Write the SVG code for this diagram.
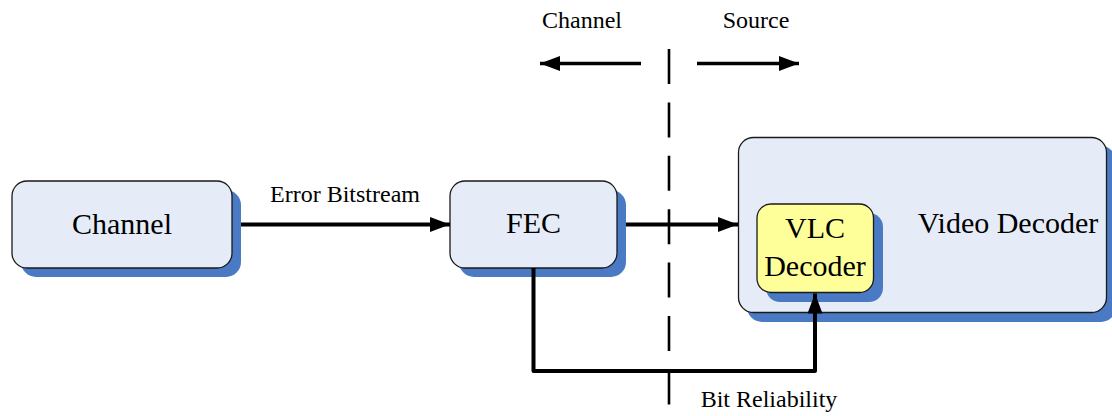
<svg xmlns="http://www.w3.org/2000/svg" width="1112" height="416" viewBox="0 0 1112 416">
  <style>
    .shadow { fill: #4A7AC3; }
    .box { fill: #E6ECF7; stroke: #1a1a1a; stroke-width: 1.3; }
    .vlc { fill: #FFFF99; stroke: #1a1a1a; stroke-width: 1.3; }
    .big { font-family: "Liberation Serif", "Times New Roman", serif; font-size: 30px; fill: #000; }
    .small { font-family: "Liberation Serif", "Times New Roman", serif; font-size: 24px; fill: #000; }
    .wire { fill: none; stroke: #000; stroke-width: 4; stroke-linejoin: round; }
    .thin { fill: none; stroke: #000; stroke-width: 3.3; }
    .divider { fill: none; stroke: #000; stroke-width: 2.6; stroke-dasharray: 35 18.4; }
  </style>
  <defs>
    <marker id="head" markerUnits="userSpaceOnUse" markerWidth="22" markerHeight="16" refX="20" refY="7.5" orient="auto">
      <path d="M0,0 L20,7.5 L0,15 Z" fill="#000"/>
    </marker>
  </defs>

  <rect width="1112" height="416" fill="#fff"/>

  <!-- side labels and direction arrows -->
  <g id="direction">
    <text class="small" x="582" y="28" text-anchor="middle">Channel</text>
    <text class="small" x="756" y="28" text-anchor="middle">Source</text>
    <line class="thin" x1="641" y1="63.5" x2="540" y2="63.5" marker-end="url(#head)"/>
    <line class="thin" x1="697" y1="63.5" x2="799" y2="63.5" marker-end="url(#head)"/>
  </g>

  <!-- channel/source boundary -->
  <line class="divider" x1="669" y1="49" x2="669" y2="406"/>

  <g id="channel">
    <rect class="shadow" x="21" y="190" width="220" height="87" rx="15"/>
    <rect class="box" x="12" y="181" width="220" height="87" rx="15"/>
    <text class="big" x="122" y="234" text-anchor="middle">Channel</text>
  </g>

  <g id="fec">
    <rect class="shadow" x="459" y="190" width="167" height="87" rx="15"/>
    <rect class="box" x="450" y="181" width="167" height="87" rx="15"/>
    <text class="big" x="533.5" y="233" text-anchor="middle">FEC</text>
  </g>

  <g id="video-decoder">
    <rect class="shadow" x="747" y="146" width="369" height="176" rx="15"/>
    <rect class="box" x="738.5" y="137.5" width="368" height="175" rx="15"/>
    <text class="big" x="1008" y="233" text-anchor="middle">Video Decoder</text>
  </g>

  <g id="vlc-decoder">
    <rect class="shadow" x="766" y="213" width="117" height="89" rx="14"/>
    <rect class="vlc" x="757" y="204" width="116.5" height="88.5" rx="14"/>
    <text class="big" x="815" y="238" text-anchor="middle">VLC</text>
    <text class="big" x="815" y="276" text-anchor="middle">Decoder</text>
  </g>

  <g id="connectors">
    <line class="wire" x1="241" y1="224.5" x2="450" y2="224.5" marker-end="url(#head)"/>
    <text class="small" x="345" y="202" text-anchor="middle">Error Bitstream</text>
    <line class="wire" x1="626" y1="224.5" x2="738" y2="224.5" marker-end="url(#head)"/>
    <path class="wire" d="M533.5,268 V371 H815 V293.5" marker-end="url(#head)"/>
    <text class="small" x="769" y="407" text-anchor="middle">Bit Reliability</text>
  </g>
</svg>
